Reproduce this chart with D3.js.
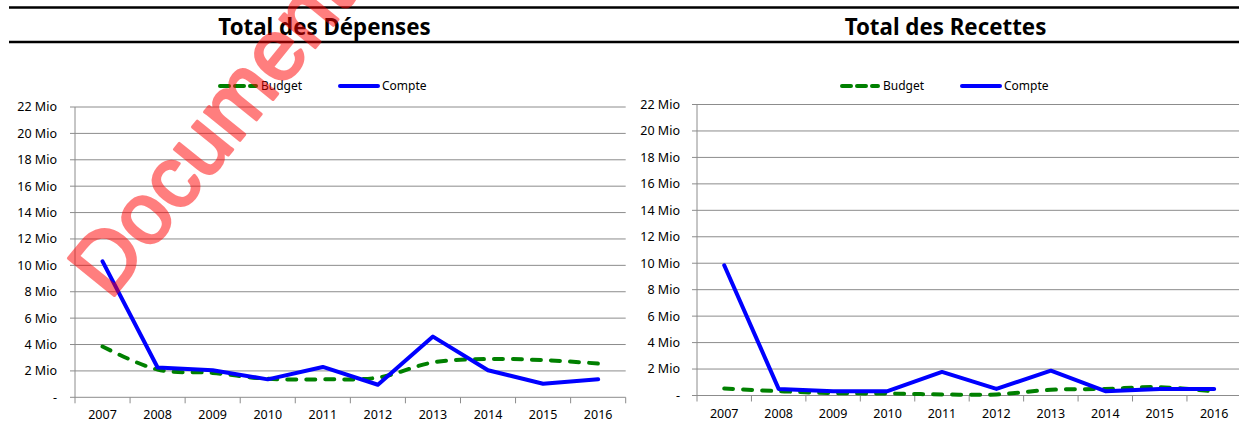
<!DOCTYPE html>
<html><head><meta charset="utf-8">
<script src="https://cdn.jsdelivr.net/npm/d3@7"></script>
<style>
html,body{margin:0;padding:0;background:#fff;}
svg{display:block;font-family:"Noto Sans",sans-serif;}
</style></head>
<body>
<svg id="c" width="1239" height="423"></svg>
<script>
const years = ["2007","2008","2009","2010","2011","2012","2013","2014","2015","2016"];
const depBudget = [3.85, 2.1, 1.85, 1.4, 1.36, 1.49, 2.64, 2.9, 2.82, 2.56];
const depCompte = [10.3, 2.26, 2.05, 1.36, 2.3, 0.95, 4.6, 2.05, 1.03, 1.36];
const recBudget = [0.53, 0.33, 0.18, 0.15, 0.08, 0.08, 0.43, 0.5, 0.63, 0.3];
const recCompte = [9.85, 0.5, 0.33, 0.33, 1.78, 0.5, 1.88, 0.33, 0.5, 0.5];
const yTicks = [0, 2, 4, 6, 8, 10, 12, 14, 16, 18, 20, 22];
const seriesNames = ["Budget", "Compte"];
const titles = ["Total des Dépenses", "Total des Recettes"];

const svg = d3.select("#c");

// header rules
svg.append("line").attr("x1",9).attr("x2",1239).attr("y1",7.5).attr("y2",7.5).attr("stroke","#000").attr("stroke-width",2.5);
svg.append("line").attr("x1",9).attr("x2",1239).attr("y1",42).attr("y2",42).attr("stroke","#000").attr("stroke-width",2.5);

const panels = [
  {title:titles[0], tx:324.5, x0:75, x1:625.7, y0:397.3, y1:107, lblX:57, budget:depBudget, compte:depCompte, legB:218, legC:340},
  {title:titles[1], tx:945.5, x0:697, x1:1241.4, y0:395.5, y1:104.5, lblX:680, budget:recBudget, compte:recCompte, legB:840, legC:962}
];

const grid = "#8c8c8c";
const green = "#008000", blue = "#0000ff";

panels.forEach(p => {
  const g = svg.append("g");
  g.append("text").attr("x",p.tx).attr("y",35).attr("text-anchor","middle")
    .attr("font-size","22.3px").attr("font-weight","bold").attr("fill","#000").text(p.title);

  const x = d3.scaleBand().domain(years).range([p.x0,p.x1]).paddingInner(0).paddingOuter(0);
  const y = d3.scaleLinear().domain([0,22]).range([p.y0,p.y1]);

  // gridlines
  g.selectAll(".gl").data(yTicks).enter().append("line")
    .attr("x1",p.x0-5).attr("x2",p.x1).attr("y1",d=>y(d)).attr("y2",d=>y(d))
    .attr("stroke",grid).attr("stroke-width",1);
  // y axis line
  g.append("line").attr("x1",p.x0).attr("x2",p.x0).attr("y1",y(22)).attr("y2",p.y0)
    .attr("stroke",grid).attr("stroke-width",1);
  // y labels
  g.selectAll(".yl").data(yTicks).enter().append("text")
    .attr("x",p.lblX).attr("y",d=>y(d)).attr("dy","0.35em").attr("text-anchor","end")
    .attr("font-size","12.5px").attr("fill","#000")
    .text(d => d===0 ? "-" : d + " Mio");
  // x ticks at boundaries
  const bounds = years.map(d=>x(d)).concat([p.x1]);
  g.selectAll(".xt").data(bounds).enter().append("line")
    .attr("x1",d=>d).attr("x2",d=>d).attr("y1",p.y0).attr("y2",p.y0+6)
    .attr("stroke",grid).attr("stroke-width",1);
  // x labels
  g.selectAll(".xl").data(years).enter().append("text")
    .attr("x",d=>x(d)+x.bandwidth()/2).attr("y",Math.min(p.y0+18,414.5)).attr("dy","0.35em")
    .attr("text-anchor","middle").attr("font-size","12.5px").attr("fill","#000").text(d=>d);

  const cx = (d,i) => x(years[i]) + x.bandwidth()/2;
  const lineB = d3.line().x(cx).y(d=>y(d)).curve(d3.curveCatmullRom.alpha(0.5));
  const lineC = d3.line().x(cx).y(d=>y(d));
  g.append("path").attr("d",lineB(p.budget)).attr("fill","none").attr("stroke",green)
    .attr("stroke-width",4).attr("stroke-dasharray","9,10").attr("stroke-linecap","round");
  g.append("path").attr("d",lineC(p.compte)).attr("fill","none").attr("stroke",blue)
    .attr("stroke-width",4).attr("stroke-linejoin","round").attr("stroke-linecap","round");

  // legend
  const ly = 86;
  g.append("line").attr("x1",p.legB+2).attr("x2",p.legB+38).attr("y1",ly).attr("y2",ly)
    .attr("stroke",green).attr("stroke-width",4).attr("stroke-dasharray","9,6").attr("stroke-linecap","round");
  g.append("text").attr("x",p.legB+43).attr("y",ly).attr("dy","0.35em").attr("font-size","12px").attr("fill","#000").text(seriesNames[0]);
  g.append("line").attr("x1",p.legC).attr("x2",p.legC+38).attr("y1",ly).attr("y2",ly)
    .attr("stroke",blue).attr("stroke-width",4).attr("stroke-linecap","round");
  g.append("text").attr("x",p.legC+42).attr("y",ly).attr("dy","0.35em").attr("font-size","12px").attr("fill","#000").text(seriesNames[1]);
});

// watermark
svg.append("g").attr("opacity",0.5)
  .append("text").attr("transform","translate(110,301) rotate(-51)")
  .attr("font-family","Liberation Sans, Arial, sans-serif").attr("font-size","86px")
  .attr("fill","#ff0000").attr("stroke","#ff0000").attr("stroke-width",3).attr("stroke-linejoin","round")
  .text("Document");
</script>
</body></html>
